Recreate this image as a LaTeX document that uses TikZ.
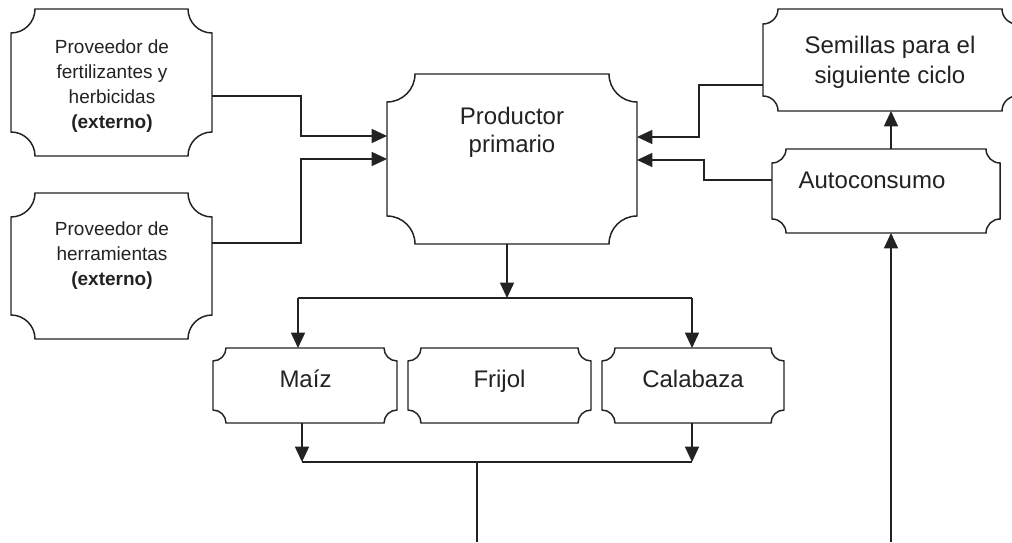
\documentclass[tikz,border=0pt]{standalone}
\usepackage{fontspec}
\setmainfont{Liberation Sans}
\usetikzlibrary{arrows.meta,calc,fit}
\definecolor{ink}{HTML}{222222}
\tikzset{
  boxline/.style={draw=ink, line width=1.1pt, line join=miter},
  frame/.style={inner sep=0pt, outer sep=0pt, draw=none},
  conn/.style={draw=ink, line width=1.1pt},
  arr/.style={conn, -{Triangle[length=11.5pt,width=10.5pt]}},
  bigtxt/.style={font=\fontsize{18}{22}\selectfont, text=ink, align=center, inner sep=0pt},
  smalltxt/.style={font=\fontsize{14.25}{18.8}\selectfont, text=ink, align=center, inner sep=0pt},
}
\newcommand\plaquebox[2]{%
  \draw[boxline] ($(#1.north west)+(#2,0)$) -- ($(#1.north east)+(-#2,0)$)
    arc[start angle=180,end angle=270,radius=#2]
    -- ($(#1.south east)+(0,#2)$)
    arc[start angle=90,end angle=180,radius=#2]
    -- ($(#1.south west)+(#2,0)$)
    arc[start angle=0,end angle=90,radius=#2]
    -- ($(#1.north west)+(0,-#2)$)
    arc[start angle=270,end angle=360,radius=#2] -- cycle;}
\begin{document}
\begin{tikzpicture}[x=0.75pt,y=0.75pt]
\fill[white] (0,0) rectangle (1012,542);
\useasboundingbox (0,0) rectangle (1012,542);

% box frames
\node[frame, fit={(11,533) (212,386)}] (b1) {};
\node[frame, fit={(11,349) (212,203)}] (b2) {};
\node[frame, fit={(387,468) (637,298)}] (prod) {};
\node[frame, fit={(763,533) (1017,431)}] (sem) {};
\node[frame, fit={(772,393) (1000,309)}] (auto) {};
\node[frame, fit={(213,194) (397,119)}] (maiz) {};
\node[frame, fit={(408,194) (591,119)}] (frij) {};
\node[frame, fit={(602,194) (784,119)}] (cala) {};

\plaquebox{b1}{24}
\plaquebox{b2}{24}
\plaquebox{prod}{28}
\plaquebox{sem}{15}
\plaquebox{auto}{14}
\plaquebox{maiz}{13}
\plaquebox{frij}{13}
\plaquebox{cala}{13}

% texts
\node[smalltxt] (t1) at (112,456) {Proveedor de\\fertilizantes y\\herbicidas\\\textbf{(externo)}};
\node[smalltxt] (t2) at (112,286.5) {Proveedor de\\herramientas\\\textbf{(externo)}};
\node[bigtxt, font=\fontsize{18}{21}\selectfont] (tprod) at (512,410) {Productor\\primario};
\node[bigtxt, font=\fontsize{18}{22.5}\selectfont] (tsem) at (890,480) {Semillas para el\\siguiente ciclo};
\node[bigtxt, anchor=base] (tauto) at (872,353) {Autoconsumo};
\node[bigtxt, anchor=base] (tmaiz) at (305.5,154) {Maíz};
\node[bigtxt, anchor=base] (tfrij) at (499.5,154) {Frijol};
\node[bigtxt, anchor=base] (tcala) at (693,154) {Calabaza};

% junction coordinates
\coordinate (topbus) at (507,244);
\coordinate (topbusL) at (298,244);
\coordinate (topbusR) at (692,244);
\coordinate (botbusL) at (302,80);
\coordinate (botbusR) at (692,80);
\coordinate (botmid) at (477,80);
\coordinate (botend) at (477,0);
\coordinate (inA) at (891,0);

% connectors into Productor primario
\draw[arr] (b1.east |- 0,446) -- (301,446) -- (301,406) -- (prod.west |- 0,406);
\draw[arr] (b2.east |- 0,299) -- (301,299) -- (301,383) -- (prod.west |- 0,383);
\draw[arr] (sem.west |- 0,457) -- (699,457) -- (699,405) -- (prod.east |- 0,405);
\draw[arr] (auto.west |- 0,362) -- (704,362) -- (704,382) -- (prod.east |- 0,382);

% autoconsumo -> semillas
\draw[arr] (auto.north -| 891,0) -- (sem.south -| 891,0);
\draw[arr] (inA) -- (auto.south -| inA);

% productor -> crops
\draw[arr] (prod.south -| topbus) -- (topbus);
\draw[conn] (topbusL) -- (topbusR);
\draw[arr] (topbusL) -- (maiz.north -| topbusL);
\draw[arr] (topbusR) -- (cala.north -| topbusR);

% crops -> bottom
\draw[arr] (maiz.south -| botbusL) -- (botbusL);
\draw[arr] (cala.south -| botbusR) -- (botbusR);
\draw[conn] (botbusL) -- (botbusR);
\draw[conn] (botmid) -- (botend);
\end{tikzpicture}
\end{document}
